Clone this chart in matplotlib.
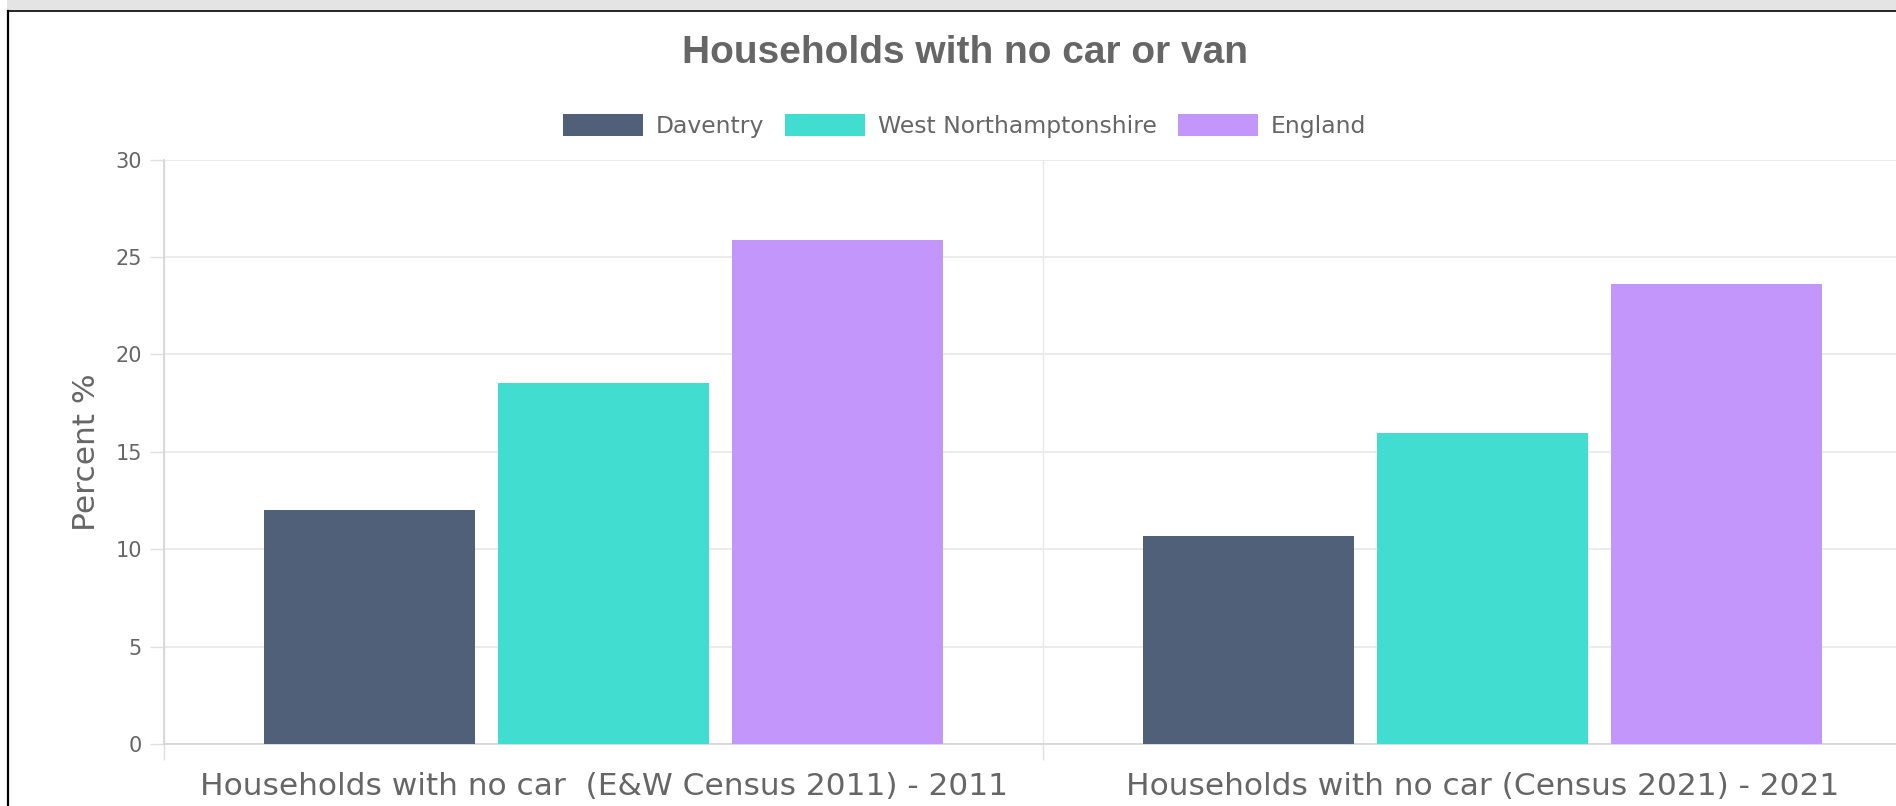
import matplotlib.pyplot as plt
import numpy as np
from matplotlib.patches import Rectangle
from matplotlib.lines import Line2D

# data
categories = ['Households with no car  (E&W Census 2011) - 2011',
              'Households with no car (Census 2021) - 2021']
series_names = ['Daventry', 'West Northamptonshire', 'England']
daventry = [12.03, 10.68]
west_northants = [18.51, 15.94]
england = [25.85, 23.59]
y_ticks = [0, 5, 10, 15, 20, 25, 30]

colors = ['#516079', '#40DDD0', '#C396FC']
text_col = '#666666'

W, H = 1896, 806
fig = plt.figure(figsize=(W / 100, H / 100), dpi=100)
fig.patch.set_facecolor('white')

# page frame: grey strip at top, black border
fig.patches.append(Rectangle((7 / W, 1 - 10 / H), 1, 10 / H, transform=fig.transFigure,
                             facecolor='#e4e4e4', edgecolor='none', zorder=0))
fig.lines.append(Line2D([7.5 / W, 1], [1 - 10.5 / H, 1 - 10.5 / H], transform=fig.transFigure,
                        color='black', lw=1.2))
fig.lines.append(Line2D([7.5 / W, 7.5 / W], [0, 1 - 10.5 / H], transform=fig.transFigure,
                        color='black', lw=1.6))

left, right = 164, 1922
bottom, top = 744, 159.5
ax = fig.add_axes([left / W, 1 - bottom / H, (right - left) / W, (bottom - top) / H])

x = np.arange(len(categories))
n = len(series_names)
slot = 0.8 / n
bw = slot * 0.9
for i, (name, vals) in enumerate(zip(series_names, [daventry, west_northants, england])):
    ax.bar(x + (i - 1) * slot, vals, width=bw, color=colors[i], label=name, zorder=3)

ax.set_xlim(-0.5, len(categories) - 0.5)
ax.set_ylim(0, 30)
ax.set_yticks(y_ticks)
ax.set_xticks(x)
ax.set_xticklabels(categories)
ax.set_xticks(np.arange(len(categories) + 1) - 0.5, minor=True)

for s in ['top', 'right']:
    ax.spines[s].set_visible(False)
ax.spines['left'].set_color('#d4d4d4')
ax.spines['bottom'].set_color('#d4d4d4')
ax.spines['left'].set_linewidth(1.2)
ax.spines['bottom'].set_linewidth(1.2)

ax.grid(axis='y', which='major', color='#e8e8e8', lw=1.2, zorder=0)
ax.grid(axis='x', which='minor', color='#e8e8e8', lw=1.0, zorder=0)
ax.tick_params(axis='y', length=10, width=1.0, color='#e0e0e0', pad=6,
               labelsize=15, labelcolor=text_col)
ax.tick_params(axis='x', which='major', length=0, pad=20.5,
               labelsize=22.5, labelcolor=text_col)
ax.tick_params(axis='x', which='minor', length=11.5, width=1.0, color='#e0e0e0')

ax.set_ylabel('Percent %', fontsize=22.5, color=text_col, labelpad=10)

fig.text(964.5 / W, 1 - 53 / H, 'Households with no car or van', ha='center', va='center',
         fontsize=28, fontweight='bold', color=text_col, family='Liberation Sans')

ax.legend(loc='center', bbox_to_anchor=(964.5 / W, 1 - 126 / H), bbox_transform=fig.transFigure,
          ncol=3, frameon=False, fontsize=16.9, labelcolor=text_col,
          handlelength=3.4, handleheight=1.03, handletextpad=0.54, columnspacing=0.9)

fig.savefig('out.png', dpi=100)
